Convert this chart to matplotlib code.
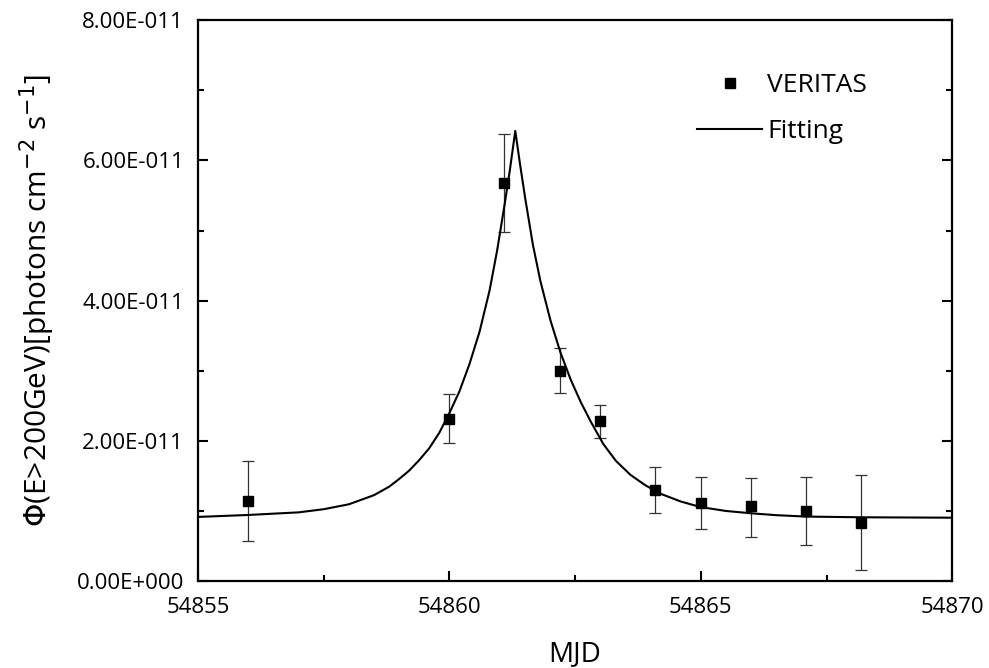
import matplotlib
matplotlib.use('Agg')
import matplotlib.pyplot as plt
from matplotlib.ticker import MultipleLocator, FixedLocator

# VERITAS points (MJD, flux in units of 1e-11)
mjd = [54856.0, 54860.0, 54861.09, 54862.2, 54862.99, 54864.09, 54865.0, 54866.0, 54867.09, 54868.19]
flux = [1.15, 2.32, 5.68, 3.00, 2.28, 1.30, 1.12, 1.07, 1.00, 0.84]
err_hi = [1.72, 2.67, 6.37, 3.32, 2.51, 1.63, 1.49, 1.48, 1.49, 1.52]
err_lo = [0.58, 1.97, 4.98, 2.68, 2.05, 0.97, 0.75, 0.64, 0.52, 0.17]

# fitted curve
fit_mjd = [54855.0, 54856.0, 54857.0, 54857.5, 54858.0, 54858.5, 54858.8, 54859.0,
           54859.2, 54859.4, 54859.6, 54859.8, 54860.0, 54860.2, 54860.4, 54860.6,
           54860.8, 54860.95, 54861.1, 54861.2, 54861.31,
           54861.41, 54861.51, 54861.66, 54861.81, 54862.01, 54862.21, 54862.41,
           54862.61, 54862.81, 54863.06, 54863.31, 54863.6, 54863.9, 54864.2,
           54864.6, 54865.0, 54865.5, 54866.0, 54866.5, 54867.09, 54868.19, 54870.0]
fit_flux = [0.92, 0.948, 0.985, 1.03, 1.10, 1.23, 1.35, 1.46,
            1.58, 1.73, 1.90, 2.12, 2.40, 2.71, 3.10, 3.56,
            4.15, 4.72, 5.38, 5.85, 6.42,
            5.92, 5.45, 4.80, 4.28, 3.72, 3.26, 2.88,
            2.56, 2.28, 1.96, 1.72, 1.52, 1.37, 1.25,
            1.14, 1.06, 1.005, 0.972, 0.945, 0.925, 0.915, 0.909]

ytick_vals = [0, 2, 4, 6, 8]
ytick_labels = ['0.00E+000', '2.00E-011', '4.00E-011', '6.00E-011', '8.00E-011']

plt.rcParams['font.family'] = ['Open Sans', 'DejaVu Sans']

fig = plt.figure(figsize=(9.89, 6.68), dpi=100)
ax = fig.add_axes([0.2002, 0.1295, 0.7626, 0.8405])

yerr = [[f - lo for f, lo in zip(flux, err_lo)], [hi - f for f, hi in zip(flux, err_hi)]]
ax.errorbar(mjd, flux, yerr=yerr, fmt='none', ecolor='#333333', elinewidth=0.9,
            capsize=4.5, capthick=0.9)
ax.plot(mjd, flux, ls='none', marker='s', ms=7.5, color='black', label='VERITAS')
ax.plot(fit_mjd, fit_flux, color='black', lw=1.5, label='Fitting')

ax.set_xlim(54855, 54870)
ax.set_ylim(0, 8)
ax.xaxis.set_major_locator(MultipleLocator(5))
ax.xaxis.set_minor_locator(MultipleLocator(2.5))
ax.xaxis.set_major_formatter(plt.FuncFormatter(lambda v, p: '%d' % v))
ax.yaxis.set_major_locator(FixedLocator(ytick_vals))
ax.yaxis.set_minor_locator(MultipleLocator(1))
ax.set_yticklabels(ytick_labels)

ax.tick_params(which='both', direction='in', top=False, right=True, labelsize=16, width=1.5)
ax.tick_params(axis='x', pad=11)
ax.tick_params(axis='y', pad=10)
ax.tick_params(which='major', length=7)
ax.tick_params(which='minor', length=4.5)
for s in ax.spines.values():
    s.set_linewidth(1.6)

ax.set_xlabel('MJD', fontsize=20, labelpad=16)
ax.set_ylabel(r'$\Phi$(E>200GeV)[photons cm$^{-2}$ s$^{-1}$]', fontsize=21.5, labelpad=14)

ax.legend(loc='upper left', bbox_to_anchor=(0.662, 0.905), frameon=False, fontsize=19,
          handlelength=2.45, handletextpad=0.2, labelspacing=0.78, borderpad=0,
          borderaxespad=0)

fig.savefig('out.png', dpi=100)
